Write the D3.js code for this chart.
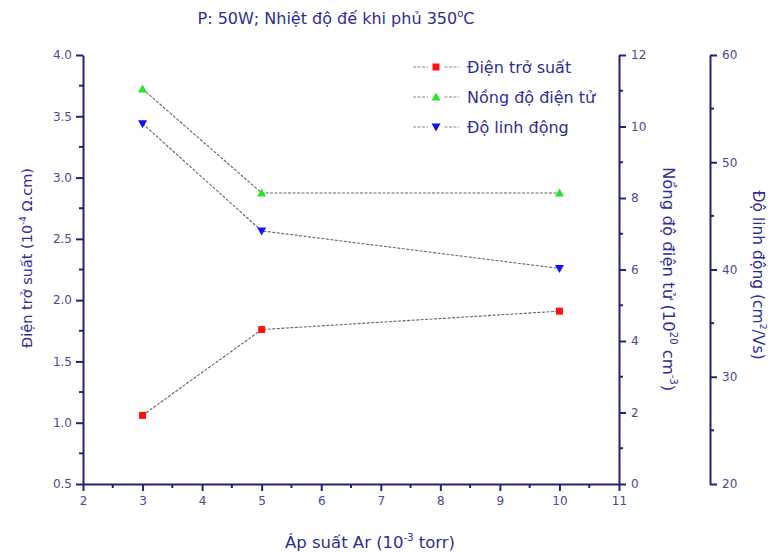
<!DOCTYPE html>
<html>
<head>
<meta charset="utf-8">
<script src="https://cdn.jsdelivr.net/npm/d3@7"></script>
<style>
  html, body { margin: 0; padding: 0; background: #fff; }
  svg { display: block; font-family: "DejaVu Sans", Verdana, sans-serif; }
</style>
</head>
<body>
<svg id="chart" width="768" height="553"></svg>
<script>
// Sputtering pressure (10^-3 torr)
const pressure = [3, 5, 10];
// Resistivity (10^-4 Ω.cm)
const resistivity = [1.06, 1.76, 1.91];
// Carrier concentration (10^20 cm^-3)
const concentration = [11.05, 8.14, 8.14];
// Hall mobility (cm^2/Vs)
const mobility = [53.6, 43.6, 40.1];

const xTicks = [2, 3, 4, 5, 6, 7, 8, 9, 10, 11];
const yLeftTicks = [0.5, 1.0, 1.5, 2.0, 2.5, 3.0, 3.5, 4.0];
const yRightTicks = [0, 2, 4, 6, 8, 10, 12];
const yMobTicks = [20, 30, 40, 50, 60];

const seriesNames = ["Điện trở suất", "Nồng độ điện tử", "Độ linh động"];

const axisColor = "#22227a";
const textColor = "#2e2e96";
const tickText = "#4a4a8e";

const svg = d3.select("#chart");
const plotLeft = 83, plotRight = 619, plotTop = 55, plotBottom = 484, axis3X = 710;

const x = d3.scaleLinear().domain([2, 11]).range([plotLeft, plotRight]);
const yL = d3.scaleLinear().domain([0.5, 4.0]).range([plotBottom, plotTop]);
const yR = d3.scaleLinear().domain([0, 12]).range([plotBottom, plotTop]);
const yM = d3.scaleLinear().domain([20, 60]).range([plotBottom, plotTop]);

function styleAxis(g) {
  g.select(".domain").attr("stroke", axisColor).attr("stroke-width", 2);
  g.selectAll(".tick line").attr("stroke", axisColor).attr("stroke-width", 2);
  g.selectAll(".tick text").attr("fill", tickText).style("font-size", "12px")
    .style("font-family", "'DejaVu Sans', Verdana, sans-serif");
}
function minorTicks(g, scale, values, orient, len) {
  g.selectAll(".minor").data(values).join("line")
    .attr("class", "minor").attr("stroke", axisColor).attr("stroke-width", 2)
    .each(function(d) {
      const s = d3.select(this);
      if (orient === "bottom") s.attr("x1", scale(d)).attr("x2", scale(d)).attr("y1", 0).attr("y2", len);
      else if (orient === "left") s.attr("y1", scale(d)).attr("y2", scale(d)).attr("x1", 0).attr("x2", -len);
      else s.attr("y1", scale(d)).attr("y2", scale(d)).attr("x1", 0).attr("x2", len);
    });
}

// Bottom axis
const gx = svg.append("g").attr("transform", `translate(0,${plotBottom})`)
  .call(d3.axisBottom(x).tickValues(xTicks).tickFormat(d3.format("d")).tickSize(7).tickSizeOuter(0).tickPadding(5));
styleAxis(gx);
minorTicks(gx, x, d3.range(2.5, 11, 1), "bottom", 4);

// Left axis
const gl = svg.append("g").attr("transform", `translate(${plotLeft},0)`)
  .call(d3.axisLeft(yL).tickValues(yLeftTicks).tickFormat(d3.format(".1f")).tickSize(7).tickSizeOuter(0).tickPadding(4));
styleAxis(gl);
minorTicks(gl, yL, d3.range(0.75, 4.0, 0.5), "left", 4);

// Right axis (concentration)
const gr = svg.append("g").attr("transform", `translate(${plotRight},0)`)
  .call(d3.axisRight(yR).tickValues(yRightTicks).tickFormat(d3.format("d")).tickSize(7).tickSizeOuter(0).tickPadding(5));
styleAxis(gr);
minorTicks(gr, yR, d3.range(1, 12, 2), "right", 4);

// Offset axis (mobility)
const gm = svg.append("g").attr("transform", `translate(${axis3X},0)`)
  .call(d3.axisRight(yM).tickValues(yMobTicks).tickFormat(d3.format("d")).tickSize(7).tickSizeOuter(0).tickPadding(5));
styleAxis(gm);
minorTicks(gm, yM, d3.range(25, 60, 10), "right", 4);

// Series lines
const series = [
  { vals: resistivity, y: yL, color: "#ff1010", shape: "square" },
  { vals: concentration, y: yR, color: "#22e622", shape: "up" },
  { vals: mobility, y: yM, color: "#1010ff", shape: "down" }
];

function drawMarker(g, shape, color, cx, cy) {
  if (shape === "square") {
    g.append("rect").attr("x", cx - 3.5).attr("y", cy - 3.5).attr("width", 7).attr("height", 7).attr("fill", color);
  } else if (shape === "up") {
    g.append("path").attr("d", `M${cx},${cy - 4.5}L${cx + 4.5},${cy + 3.5}L${cx - 4.5},${cy + 3.5}Z`).attr("fill", color);
  } else {
    g.append("path").attr("d", `M${cx},${cy + 4.5}L${cx + 4.5},${cy - 3.5}L${cx - 4.5},${cy - 3.5}Z`).attr("fill", color);
  }
}

const plot = svg.append("g");
series.forEach(s => {
  const line = d3.line().x((d, i) => x(pressure[i])).y(d => s.y(d));
  plot.append("path").datum(s.vals).attr("d", line)
    .attr("fill", "none").attr("stroke", "#666").attr("stroke-width", 1.1)
    .attr("stroke-dasharray", "3,1.5");
  s.vals.forEach((v, i) => drawMarker(plot, s.shape, s.color, x(pressure[i]), s.y(v)));
});

// Legend
const legend = svg.append("g");
seriesNames.forEach((name, i) => {
  const ly = 67 + i * 30;
  legend.append("line").attr("x1", 413).attr("x2", 459).attr("y1", ly).attr("y2", ly)
    .attr("stroke", "#888").attr("stroke-width", 1).attr("stroke-dasharray", "3,1.5");
  legend.append("rect").attr("x", 428).attr("y", ly - 5).attr("width", 16).attr("height", 10).attr("fill", "#fff");
  drawMarker(legend, series[i].shape, series[i].color, 436, ly);
  legend.append("text").attr("x", 467).attr("y", ly + 5.5).attr("fill", textColor)
    .style("font-size", "16px").text(name);
});

// Title
const title = svg.append("text").attr("x", 336).attr("y", 24).attr("text-anchor", "middle")
  .attr("fill", textColor).style("font-size", "16px");
title.append("tspan").text("P: 50W; Nhiệt độ đế khi phủ 350");
title.append("tspan").attr("dy", -7).style("font-size", "10px").text("o");
title.append("tspan").attr("dy", 7).text("C");

// Axis titles
function supLabel(g, parts, size) {
  const t = g.append("text").attr("text-anchor", "middle").attr("fill", textColor).style("font-size", size + "px");
  const shift = Math.round(size * 0.42);
  parts.forEach(p => {
    const ts = t.append("tspan").text(p.t);
    if (p.sup) ts.attr("dy", -shift).style("font-size", (size * 0.6) + "px");
    if (p.down) ts.attr("dy", shift);
  });
  return t;
}

supLabel(svg.append("g").attr("transform", "translate(370,548)"),
  [{ t: "Áp suất Ar (10" }, { t: "-3", sup: true }, { t: " torr)", down: true }], 16.5);

supLabel(svg.append("g").attr("transform", "translate(32,258) rotate(-90)"),
  [{ t: "Điện trở suất (10" }, { t: "-4", sup: true }, { t: " Ω.cm)", down: true }], 14.5);

supLabel(svg.append("g").attr("transform", "translate(663,279) rotate(90)"),
  [{ t: "Nồng độ điện tử (10" }, { t: "20", sup: true }, { t: " cm", down: true }, { t: "-3", sup: true }, { t: ")", down: true }], 16.5);

supLabel(svg.append("g").attr("transform", "translate(753,275) rotate(90)"),
  [{ t: "Độ linh động (cm" }, { t: "2", sup: true }, { t: "/Vs)", down: true }], 15.5);
</script>
</body>
</html>
